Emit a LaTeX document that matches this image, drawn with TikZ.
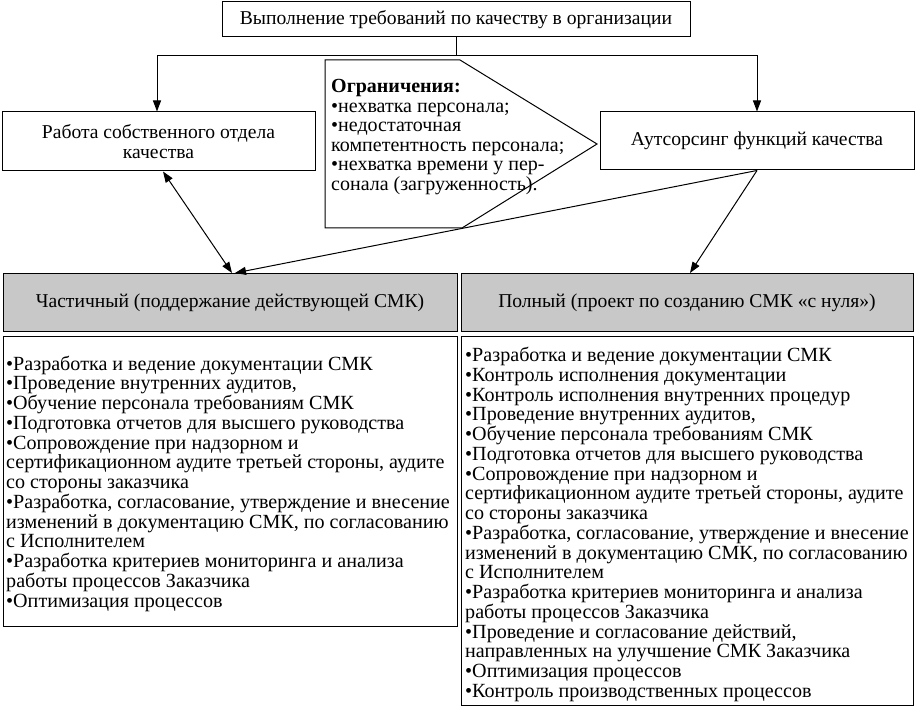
\documentclass[tikz,border=0pt]{standalone}
\usepackage{fontspec}
\setmainfont{Liberation Serif}
\usetikzlibrary{arrows.meta}
\definecolor{hdrgray}{RGB}{200,200,200}
\begin{document}
\begin{tikzpicture}[x=1pt,y=-1pt,
  font=\fontsize{19.6}{19.7}\selectfont,
  box/.style={draw, line width=1pt, inner sep=0pt, align=center},
  hdr/.style={box, fill=hdrgray},
  txt/.style={anchor=north west, inner sep=0pt, align=left},
  listfont/.style={font=\fontsize{20.1}{19.75}\selectfont},
  arr/.style={-{Triangle[length=11pt,width=8pt]}, line width=1pt},
  darr/.style={{Triangle[length=11pt,width=8pt]}-{Triangle[length=11pt,width=8pt]}, line width=1pt},
  ln/.style={line width=1pt}]
\useasboundingbox (0,0) rectangle (916,708);

\node[box, minimum width=468pt, minimum height=35pt] (top) at (456,19.5)
  {Выполнение требований по качеству в организации};
\node[box, minimum width=313pt, minimum height=59pt] (own) at (158.5,141.5)
  {Работа собственного отдела\\качества};
\node[box, minimum width=314pt, minimum height=58pt] (out) at (757,141)
  {Аутсорсинг функций качества};

% pentagon callout
\draw[ln] (325,60) coordinate (p1) -- (460,60) -- (597,144) coordinate (ptip)
  -- (462,228) -- (325,228) -- cycle;
\node[txt, font=\fontsize{20}{19.6}\selectfont] (lim) at (331,79)
  {\textbf{Ограничения:}\\
   •нехватка персонала;\\
   •недостаточная\\
   компетентность персонала;\\
   •нехватка времени у пер-\\
   сонала (загруженность).};

\node[hdr, minimum width=454pt, minimum height=58pt] (part) at (230,302.5)
  {Частичный (поддержание действующей СМК)};
\node[hdr, minimum width=452pt, minimum height=58pt] (full) at (687,302.5)
  {Полный (проект по созданию СМК «с нуля»)};

\node[box, minimum width=454pt, minimum height=289pt] (partlist) at (230,481.5) {};
\node[box, minimum width=452pt, minimum height=368pt] (fulllist) at (687,521) {};

\node[txt, listfont] (ptext) at (6,355.5)
  {•Разработка и ведение документации СМК\\
   •Проведение внутренних аудитов,\\
   •Обучение персонала требованиям СМК\\
   •Подготовка отчетов для высшего руководства\\
   •Сопровождение при надзорном и\\
   сертификационном аудите третьей стороны, аудите\\
   со стороны заказчика\\
   •Разработка, согласование, утверждение и внесение\\
   изменений в документацию СМК, по согласованию\\
   с Исполнителем\\
   •Разработка критериев мониторинга и анализа\\
   работы процессов Заказчика\\
   •Оптимизация процессов};

\node[txt, listfont] (ftext) at (465,347)
  {•Разработка и ведение документации СМК\\
   •Контроль исполнения документации\\
   •Контроль исполнения внутренних процедур\\
   •Проведение внутренних аудитов,\\
   •Обучение персонала требованиям СМК\\
   •Подготовка отчетов для высшего руководства\\
   •Сопровождение при надзорном и\\
   сертификационном аудите третьей стороны, аудите\\
   со стороны заказчика\\
   •Разработка, согласование, утверждение и внесение\\
   изменений в документацию СМК, по согласованию\\
   с Исполнителем\\
   •Разработка критериев мониторинга и анализа\\
   работы процессов Заказчика\\
   •Проведение и согласование действий,\\
   направленных на улучшение СМК Заказчика\\
   •Оптимизация процессов\\
   •Контроль производственных процессов};

% connectors
\draw[ln] (top.south) -- ++(0,18) coordinate (j);
\draw[arr] (j) -| ([xshift=-1.5pt]own.north);
\draw[arr] (j) -| (out.north);
\draw[darr] ([xshift=4.5pt]own.south) -- ([xshift=2pt]part.north);
\draw[arr] (out.south) -- ([xshift=5pt]part.north);
\draw[arr] (out.south) -- ([xshift=3pt]full.north);
\end{tikzpicture}
\end{document}
